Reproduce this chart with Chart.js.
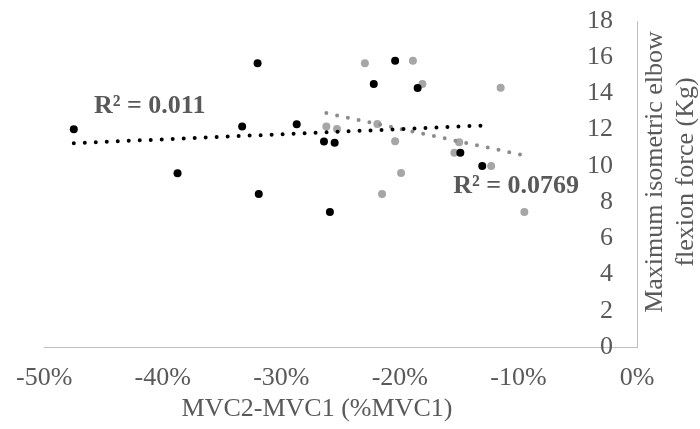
<!DOCTYPE html>
<html>
<head>
<meta charset="utf-8">
<script src="https://cdn.jsdelivr.net/npm/chart.js@4"></script>
<style>
  html, body { margin: 0; padding: 0; background: #fff; }
  #wrap { width: 700px; height: 429px; }
</style>
</head>
<body>
<div id="wrap"><canvas id="chart" width="700" height="429"></canvas></div>
<script>
// ── DATOS ───────────────────────────────────────────────
// MVC2-MVC1 (%MVC1) vs fuerza máxima (Kg)
const serieNegraX = [-47.5, -38.75, -33.3, -32.0, -31.9, -28.7, -26.4, -25.5, -25.9, -22.2, -20.4, -18.5, -14.9, -13.05];
const serieNegraY = [12.02, 9.59, 12.17, 15.67, 8.45, 12.3, 11.34, 11.28, 7.45, 14.52, 15.81, 14.3, 10.73, 9.99];

const serieGrisX = [-26.2, -25.3, -22.95, -21.9, -21.5, -20.4, -19.9, -18.9, -18.1, -15.0, -15.4, -12.3, -11.5, -9.5];
const serieGrisY = [12.17, 12.04, 15.67, 12.31, 8.45, 11.36, 9.61, 15.81, 14.52, 11.3, 10.73, 9.99, 14.32, 7.45];

const etiquetasR2 = ["R² = 0.011", "R² = 0.0769"];
const posicionR2 = [[-45.8, 13.3], [-15.5, 8.9]];   // en unidades de datos

const tituloX = "MVC2-MVC1 (%MVC1)";
const tituloY = ["Maximum isometric elbow", "flexion force (Kg)"];

const xMin = -50, xMax = 0, xPaso = 10;
const yMin = 0, yMax = 18, yPaso = 2;

// ── HELPERS ─────────────────────────────────────────────
const puntos = (xs, ys) => xs.map((x, i) => ({ x: x, y: ys[i] }));

// Recta de mínimos cuadrados entre min(x) y max(x), como la tendencia de Excel
function tendencia(xs, ys) {
  const n = xs.length;
  const mx = xs.reduce((a, b) => a + b, 0) / n;
  const my = ys.reduce((a, b) => a + b, 0) / n;
  let sxy = 0, sxx = 0;
  xs.forEach((x, i) => { sxy += (x - mx) * (ys[i] - my); sxx += (x - mx) ** 2; });
  const m = sxy / sxx;
  const b = my - m * mx;
  const x0 = Math.min(...xs), x1 = Math.max(...xs);
  return [{ x: x0, y: m * x0 + b }, { x: x1, y: m * x1 + b }];
}

const FUENTE = "'Liberation Serif', 'Times New Roman', serif";
const GRIS_TEXTO = "#595959";

// Títulos de ejes y etiquetas R² dibujados a mano (el eje Y va pegado a x = 0)
const textosPlugin = {
  id: "textos",
  afterDraw(chart) {
    const ctx = chart.ctx;
    const sx = chart.scales.x, sy = chart.scales.y;
    ctx.save();
    ctx.fillStyle = GRIS_TEXTO;
    ctx.textBaseline = "middle";

    // R²
    ctx.font = "bold 26px " + FUENTE;
    ctx.textAlign = "left";
    etiquetasR2.forEach((t, i) => {
      ctx.fillText(t, sx.getPixelForValue(posicionR2[i][0]), sy.getPixelForValue(posicionR2[i][1]));
    });

    // título X
    ctx.font = "26px " + FUENTE;
    ctx.textAlign = "center";
    ctx.fillText(tituloX, 317, 409);

    // título Y (rotado)
    ctx.translate(670, 172);
    ctx.rotate(-Math.PI / 2);
    ctx.fillText(tituloY[0], 0, -15);
    ctx.fillText(tituloY[1], 0, 16);
    ctx.restore();
  }
};

const lineaPunteada = (datos, color, orden) => ({
  type: "line",
  data: datos,
  borderColor: color,
  borderWidth: 4,
  borderDash: [0, 11],
  borderCapStyle: "round",
  pointRadius: 0,
  fill: false,
  tension: 0,
  order: orden
});

new Chart(document.getElementById("chart"), {
  type: "scatter",
  data: {
    datasets: [
      lineaPunteada(tendencia(serieNegraX, serieNegraY), "#000000", 0),
      lineaPunteada(tendencia(serieGrisX, serieGrisY), "#8c8c8c", 1),
      {
        data: puntos(serieNegraX, serieNegraY),
        backgroundColor: "#000000",
        borderWidth: 0,
        pointRadius: 4,
        order: 2
      },
      {
        data: puntos(serieGrisX, serieGrisY),
        backgroundColor: "#a6a6a6",
        borderWidth: 0,
        pointRadius: 4,
        order: 3
      }
    ]
  },
  options: {
    responsive: false,
    animation: false,
    layout: { padding: { left: 43, top: 21, right: 0, bottom: 0 } },
    plugins: { legend: { display: false }, tooltip: { enabled: false } },
    scales: {
      x: {
        type: "linear",
        min: xMin, max: xMax,
        grid: { display: false, drawTicks: false },
        border: { display: true, color: "#bfbfbf", width: 1 },
        ticks: {
          stepSize: xPaso,
          padding: 16,
          color: GRIS_TEXTO,
          font: { family: FUENTE, size: 26 },
          callback: v => Math.round(v) + "%"
        },
        afterFit: s => { s.height = 82; }
      },
      y: {
        type: "linear",
        position: "right",
        min: yMin, max: yMax,
        grid: { display: false, drawTicks: false },
        border: { display: true, color: "#bfbfbf", width: 1 },
        ticks: {
          stepSize: yPaso,
          mirror: true,
          padding: -24,
          color: GRIS_TEXTO,
          font: { family: FUENTE, size: 26 }
        },
        afterFit: s => { s.width = 63; }
      }
    }
  },
  plugins: [textosPlugin]
});
</script>
</body>
</html>
